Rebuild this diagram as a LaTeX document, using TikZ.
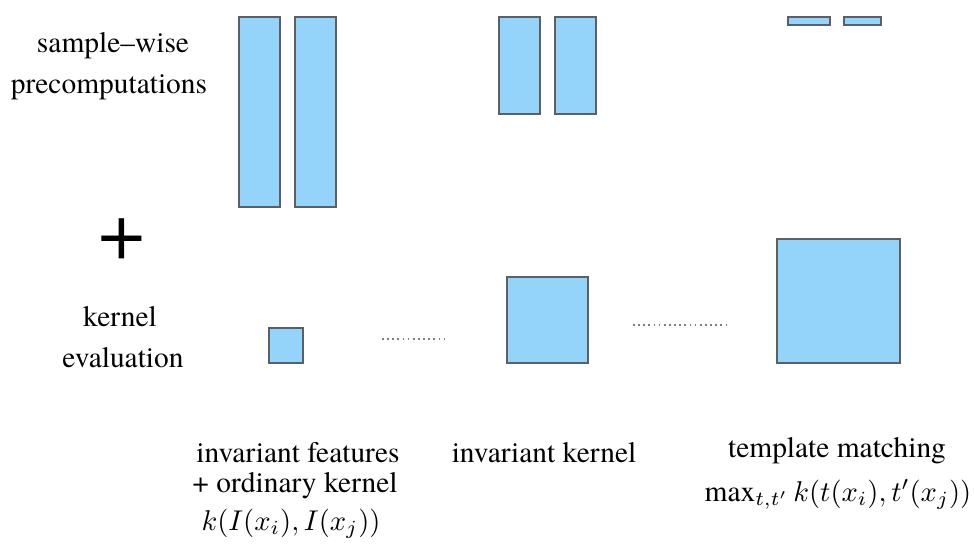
\documentclass[tikz,border=0pt]{standalone}
\usepackage{fontspec}
\setmainfont{texgyretermes}[Extension=.otf,UprightFont=*-regular,BoldFont=*-bold,ItalicFont=*-italic,BoldItalicFont=*-bolditalic]
\usepackage{amsmath}
\usetikzlibrary{calc}
\definecolor{boxblue}{RGB}{148,212,250}
\definecolor{boxline}{RGB}{90,96,102}
\tikzset{
  blk/.style={fill=boxblue,draw=boxline,line width=0.5pt},
  sep/.style={draw=gray,line width=0.45pt,dash pattern=on 0.6pt off 1.2pt},
  lbl/.style={anchor=base,inner sep=0pt,font=\rmfamily\fontsize{10.3}{12}\selectfont}
}
\begin{document}
\begin{tikzpicture}[x=0.35pt,y=-0.35pt]
  \useasboundingbox (0,0) rectangle (974,549);
  %\draw[help lines,step=50] (0,0) grid (974,549);

  % row labels
  \node[lbl] (sw)   at (113,52)  {sample--wise};
  \node[lbl] (pc)   at (109,93)  {precomputations};
  \node[anchor=center,inner sep=0pt,font=\rmfamily\fontsize{29}{29}\selectfont] (plus) at (122,239) {+};
  \node[lbl] (kern) at (120,326) {kernel};
  \node[lbl] (eval) at (123,367) {evaluation};

  % sample-wise blocks
  \draw[blk] (239,17) rectangle (280,207);
  \draw[blk] (295,17) rectangle (336,207);
  \draw[blk] (499,17) rectangle (540,114);
  \draw[blk] (555,17) rectangle (596,114);
  \draw[blk] (788,17) rectangle (830,25);
  \draw[blk] (844,17) rectangle (881,25);

  % kernel blocks
  \draw[blk] (269,328) rectangle (303,363);
  \draw[blk] (507,277) rectangle (588,363);
  \draw[blk] (777,239) rectangle (900,363);

  % dotted separators
  \coordinate (d1a) at (382,339);
  \coordinate (d1b) at (448,339);
  \coordinate (d2a) at (633,325);
  \coordinate (d2b) at (730,325);
  \draw[sep] (d1a) -- (d1b);
  \draw[sep] (d2a) -- (d2b);

  % column labels
  \node[lbl] (if)  at (298,462) {invariant features};
  \node[lbl] (ok)  at (295,492) {+ ordinary kernel};
  \node[lbl] (kI)  at (291,530) {$k(I(x_i),I(x_j))$};
  \node[lbl] (ik)  at (544,462) {invariant kernel};
  \node[lbl] (tm)  at (837,457) {template matching};
  \node[lbl] (mx)  at (838,501) {$\max_{t,t'} k(t(x_i),t'(x_j))$};
\end{tikzpicture}
\end{document}
